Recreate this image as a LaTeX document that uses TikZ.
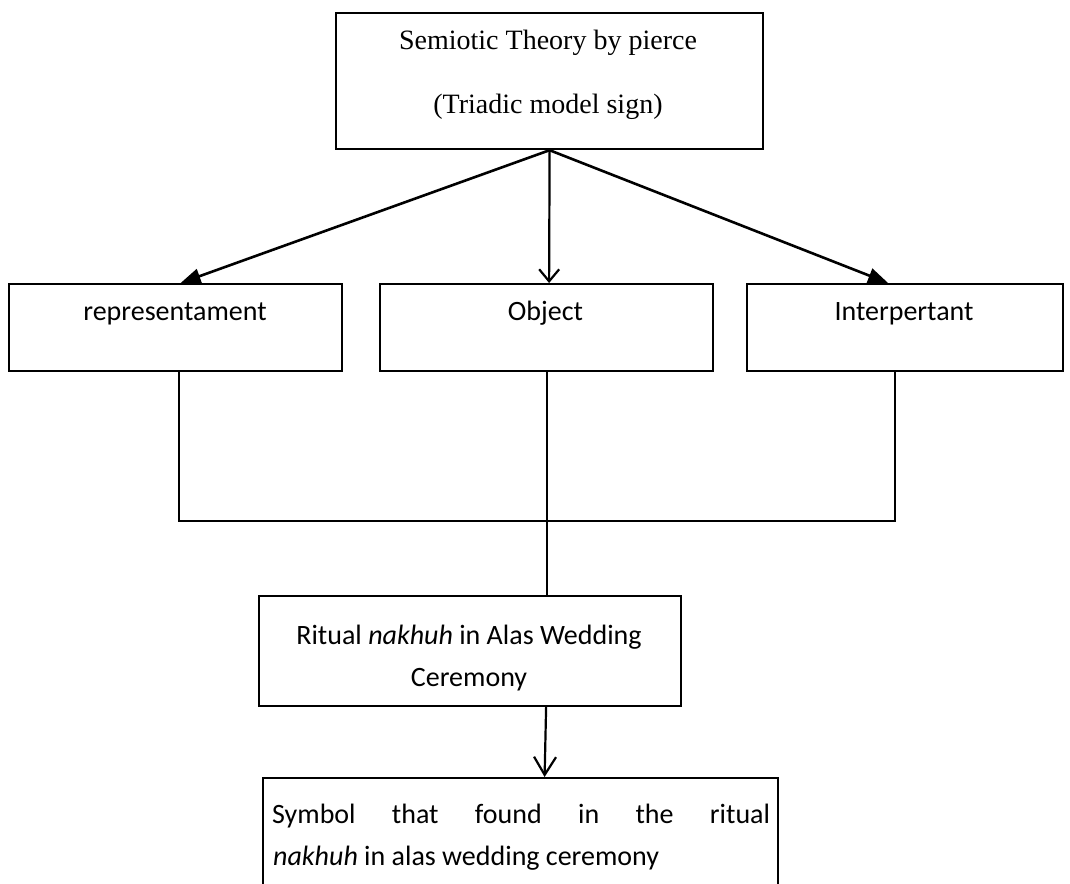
\documentclass[tikz,border=0pt]{standalone}
\usepackage{fontspec}
\setmainfont{Liberation Serif}
\newfontfamily\calibri{Carlito}
\usetikzlibrary{arrows.meta,calc}
\begin{document}
\begin{tikzpicture}[x=1pt,y=-1pt,
  box/.style={draw, line width=2.2pt, inner sep=0pt, anchor=north west},
  serif/.style={font=\fontsize{28}{34}\selectfont, anchor=base, inner sep=0pt},
  sans/.style={font=\calibri\fontsize{28}{34}\selectfont, anchor=base, inner sep=0pt},
  link/.style={line width=2.2pt},
  farr/.style={line width=2.6pt, -{Triangle[length=20pt,width=15pt]}},
  varr/.style={line width=2.2pt, -{Straight Barb[length=12pt,width=20pt,line width=2.2pt]}},
  barr/.style={line width=2.2pt, -{Straight Barb[length=18pt,width=22pt,line width=2.2pt]}}]
\useasboundingbox (0,0) rectangle (1070,883);
\clip (0,0) rectangle (1070,883);
\fill[white] (0,0) rectangle (1070,883);

% boxes
\node[box, minimum width=427pt, minimum height=136pt] (top) at (335,12) {};
\node[box, minimum width=333pt, minimum height=87pt] (rep) at (8,283) {};
\node[box, minimum width=333pt, minimum height=87pt] (obj) at (379,283) {};
\node[box, minimum width=316pt, minimum height=87pt] (int) at (746,283) {};
\node[box, minimum width=422pt, minimum height=110pt] (rit) at (258,595) {};
\node[box, minimum width=515pt, minimum height=140pt] (sym) at (262,777) {};

% texts
\node[serif] (t1) at (548,50) {Semiotic Theory by pierce};
\node[serif] (t2) at (548,113) {(Triadic model sign)};
\node[sans] (trep) at (175,320) {representament};
\node[sans] (tobj) at (545.5,320) {Object};
\node[sans] (tint) at (904,320) {Interpertant};
\node[sans] (tr1) at (469,644) {Ritual \textit{nakhuh} in Alas Wedding};
\node[sans] (tr2) at (469,686) {Ceremony};
\node[sans, anchor=base west] (ts1) at (272,823) {\hbox to 498pt{Symbol\hfil that\hfil found\hfil in\hfil the\hfil ritual}};
\node[sans, anchor=base west] (ts2) at (273,865) {\textit{nakhuh} in alas wedding ceremony};

% arrows from top
\coordinate (src) at (top.south);
\draw[farr] (src) -- ([xshift=5pt]rep.north);
\draw[varr] (src) -- ([xshift=2.5pt]obj.north);
\draw[farr] (src) -- ([xshift=-17pt]int.north);

% joining lines
\coordinate (jl) at ([xshift=3pt]rep.south |- 0,521);
\coordinate (jr) at ([xshift=-10pt]int.south |- 0,521);
\draw[link] ([xshift=3pt]rep.south) -- (jl) -- (jr) -- ([xshift=-10pt]int.south);
\draw[link] (obj.south) -- (obj.south |- rit.north);

% arrow to symbol box
\draw[barr] ([xshift=76pt]rit.south) -- ([xshift=24pt]sym.north);
\end{tikzpicture}
\end{document}
